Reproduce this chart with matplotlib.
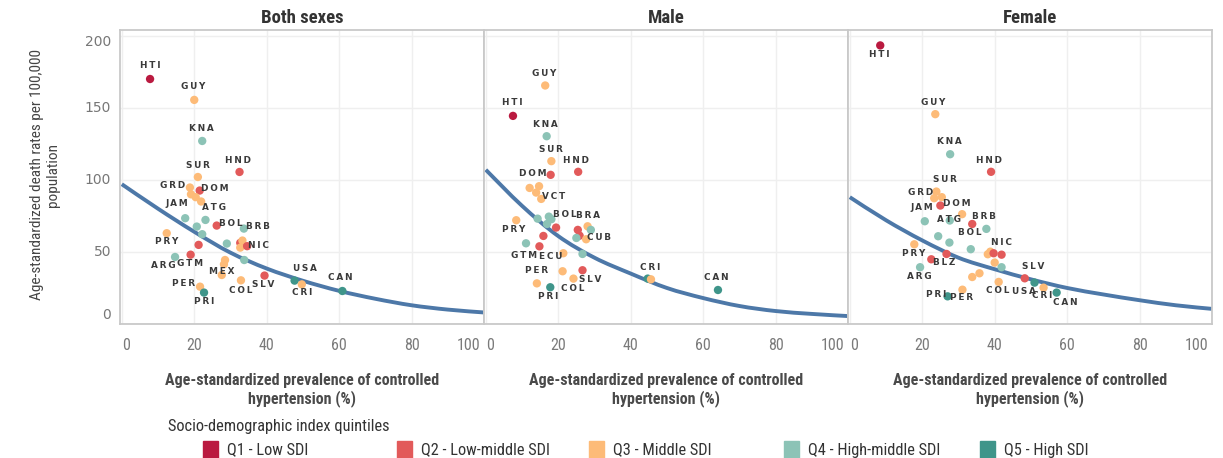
import matplotlib
matplotlib.use('Agg')
import matplotlib.pyplot as plt
from matplotlib import font_manager
from matplotlib.patches import Rectangle, PathPatch
from matplotlib.path import Path

# ---------------- data ----------------
quintile_labels = ['Q1 - Low SDI', 'Q2 - Low-middle SDI', 'Q3 - Middle SDI',
                   'Q4 - High-middle SDI', 'Q5 - High SDI']
quintile_colors = ['#BA1A40', '#E25A5A', '#FDBB78', '#8CC3B6', '#3F958A']

panel_titles = ['Both sexes', 'Male', 'Female']
x_ticks = [0, 20, 40, 60, 80, 100]
y_ticks = [0, 50, 100, 150, 200]

# Both sexes
both_codes = ['HTI', 'GUY', 'KNA', 'HND', 'SUR', 'GRD', 'DOM', '', '', '',
              'JAM', 'ATG', '', 'BOL', 'BRB', '', 'PRY', '', '', '',
              '', '', 'NIC', 'ARG', 'GTM', '', '', 'MEX', '', 'SLV',
              'COL', 'USA', 'CRI', 'PER', 'PRI', 'CAN']
both_x = [7.8, 20.0, 22.2, 32.5, 21.0, 18.8, 21.5, 19.1, 20.4, 21.9,
          17.5, 23.1, 20.7, 26.2, 33.7, 22.2, 12.4, 21.2, 29.0, 32.7,
          33.3, 32.7, 34.6, 14.7, 19.0, 28.5, 28.2, 27.6, 33.8, 39.4,
          32.9, 47.7, 49.7, 21.6, 22.7, 60.9]
both_y = [170, 155.5, 127, 105.5, 102, 94.7, 92.6, 90, 88, 85,
          73.4, 72.2, 67.6, 68.3, 66.2, 62.3, 63, 54.9, 55.8, 56.3,
          57.9, 53, 54, 46.5, 48.1, 44.4, 41.4, 34, 44.4, 33.6,
          30.3, 30.1, 27.5, 25.9, 21.8, 22.9]
both_q = [1, 3, 4, 2, 3, 3, 2, 3, 3, 3,
          4, 4, 4, 2, 4, 4, 3, 2, 4, 2,
          3, 3, 2, 4, 2, 3, 3, 3, 4, 2,
          3, 5, 3, 3, 5, 5]
both_curve = [97, 80, 64, 49.5, 38.5, 30, 23, 17.5, 13, 10, 8]

# Male
male_codes = ['HTI', 'GUY', 'KNA', 'SUR', 'HND', 'DOM', '', '', '', 'VCT',
              '', '', '', '', 'BOL', 'PRY', 'BRA', '', '', '',
              '', 'CUB', '', '', 'GTM', 'ECU', '', '', 'SLV', 'COL',
              'PER', 'PRI', '', 'CRI', 'CAN']
male_x = [7.5, 16.4, 16.8, 18.1, 25.5, 17.9, 12.1, 14.7, 13.9, 15.3,
          14.3, 17.4, 18.1, 16.9, 19.4, 8.4, 28.1, 29.0, 25.4, 25.9,
          25.0, 27.7, 15.9, 11.1, 14.8, 21.4, 26.7, 21.2, 26.7, 24.2,
          14.1, 17.8, 44.7, 45.6, 64.1]
male_y = [144.4, 165.5, 130.3, 113, 105.6, 103.5, 94.4, 95.6, 91.2, 86.8,
          73.1, 74.5, 72.7, 69.4, 66.9, 72, 67.8, 65.3, 65.3, 61.3,
          59.7, 58.8, 61.1, 56, 53.9, 49.1, 48.6, 36.6, 37.3, 31.5,
          28.2, 25.5, 31.5, 31, 23.6]
male_q = [1, 3, 4, 3, 2, 2, 3, 3, 3, 3,
          4, 4, 4, 4, 2, 3, 3, 4, 2, 2,
          4, 3, 2, 4, 2, 3, 4, 3, 2, 3,
          3, 5, 5, 3, 5]
male_curve = [107, 82, 61, 46, 35, 25, 18, 12.5, 9, 7, 5.5]

# Female
female_codes = ['HTI', 'GUY', 'KNA', 'HND', 'SUR', 'GRD', '', 'DOM', '', 'JAM',
                'ATG', 'BOL', 'BRB', '', '', 'PRY', '', 'BLZ', '', 'ARG',
                '', '', 'NIC', '', '', '', '', '', 'COL', 'PER',
                'PRI', 'SLV', 'USA', 'CRI', 'CAN']
female_x = [8.4, 23.6, 27.7, 39.0, 23.9, 23.3, 25.4, 25.0, 31.0, 20.7,
            27.6, 33.8, 37.7, 24.4, 27.5, 17.8, 33.4, 26.7, 22.5, 19.4,
            38.1, 38.8, 39.7, 41.9, 40.0, 41.9, 35.8, 33.8, 41.1, 31.1,
            27.0, 48.3, 51.0, 53.5, 57.1]
female_y = [193.3, 145.6, 117.8, 105.6, 91.9, 87.3, 88, 82.2, 76.2, 71.3,
            71.8, 69.4, 66, 60.9, 56.5, 55.3, 51.9, 48.6, 44.9, 39.4,
            48.4, 50.2, 49.1, 48.1, 42.6, 39.4, 35.2, 32.6, 29.2, 23.8,
            19.2, 31.7, 28.7, 25.2, 21.8]
female_q = [1, 3, 4, 2, 3, 3, 3, 2, 3, 4,
            4, 2, 4, 4, 4, 3, 4, 2, 2, 4,
            3, 3, 2, 2, 3, 4, 3, 3, 3, 3,
            5, 2, 5, 3, 5]
female_curve = [88, 72, 58, 46, 38, 31, 25, 20.5, 16.5, 13, 10.5]

curve_x = [0, 10, 20, 30, 40, 50, 60, 70, 80, 90, 100]

# ---------------- layout (label offsets in pixels: dx right, dy up) ----------------
both_label_off = {'HTI': (0, 13), 'GUY': (-1, 13), 'KNA': (-1, 12), 'SUR': (0, 12),
                  'HND': (-2, 11), 'GRD': (-17, 2), 'DOM': (15, 2), 'JAM': (-8, 15),
                  'ATG': (9, 12), 'BOL': (14, 2), 'BRB': (14, 2), 'PRY': (0, -8),
                  'NIC': (11, 1), 'ARG': (-12, -9), 'GTM': (-1, -9), 'MEX': (0, 3),
                  'PER': (-16, 3), 'PRI': (0, -9), 'COL': (0, -10), 'SLV': (-1, -9),
                  'USA': (10, 12), 'CRI': (0, -8), 'CAN': (-2, 13)}
male_label_off = {'GUY': (-1, 12), 'HTI': (-1, 13), 'KNA': (-1, 12), 'SUR': (0, 12),
                  'HND': (-2, 11), 'DOM': (-18, 1), 'VCT': (12, 2), 'BOL': (9, 13),
                  'BRA': (0, 11), 'PRY': (-3, -9), 'CUB': (13, 2), 'GTM': (-15, -9),
                  'ECU': (-13, -3), 'PER': (0, 13), 'SLV': (8, -9), 'COL': (-1, -10),
                  'PRI': (-2, -9), 'CRI': (-1, 12), 'CAN': (-2, 12)}
female_label_off = {'HTI': (-1, -9), 'GUY': (-2, 12), 'KNA': (-1, 13), 'HND': (-2, 11),
                    'SUR': (9, 12), 'GRD': (-14, 6), 'JAM': (-3, 14), 'DOM': (16, 2),
                    'ATG': (-1, 1), 'BRB': (-2, 12), 'BOL': (-2, -9), 'NIC': (8, 11),
                    'PRY': (-1, -9), 'BLZ': (-2, -9), 'ARG': (-1, -9), 'SLV': (8, 12),
                    'COL': (-1, -9), 'USA': (-11, -9), 'CRI': (-1, -8), 'CAN': (9, -10),
                    'PRI': (-11, 2), 'PER': (-1, -8)}

# ---------------- fonts ----------------
ttf = font_manager.fontManager.ttflist
names = {f.name for f in ttf}
pref = ['Liberation Sans Narrow', 'Arial Narrow', 'Roboto Condensed',
        'Noto Sans Condensed', 'Open Sans Condensed', 'DejaVu Sans Condensed',
        'Noto Sans SemiCondensed']
narrow_name = next((c for c in pref if c in names), None)
if narrow_name is None:
    narrow_name = next((f.name for f in ttf if ('Narrow' in f.name or 'Condensed' in f.name)
                        and 'Extra' not in f.name and 'Ultra' not in f.name), None)
if narrow_name is not None:
    NARROW = dict(family=narrow_name)
    FS = 1.0
else:
    NARROW = dict(family='Liberation Sans')
    FS = 0.85

W, H = 1223, 458
fig = plt.figure(figsize=(W / 100, H / 100), dpi=100)


def fx(px):
    return px / W


def fy(py):
    return 1 - py / H


def spaced(s):
    return '\u2009'.join(s)


def smooth_path(xs, ys):
    """Catmull-Rom spline through the given points, as a Bezier path."""
    pts = list(zip(xs, ys))
    ext = [pts[0]] + pts + [pts[-1]]
    verts = [pts[0]]
    codes = [Path.MOVETO]
    for k in range(1, len(ext) - 2):
        p0, p1, p2, p3 = ext[k - 1], ext[k], ext[k + 1], ext[k + 2]
        c1 = (p1[0] + (p2[0] - p0[0]) / 6, p1[1] + (p2[1] - p0[1]) / 6)
        c2 = (p2[0] - (p3[0] - p1[0]) / 6, p2[1] - (p3[1] - p1[1]) / 6)
        verts += [c1, c2, p2]
        codes += [Path.CURVE4] * 3
    return Path(verts, codes)


panels = [
    (both_codes, both_x, both_y, both_q, both_curve, both_label_off),
    (male_codes, male_x, male_y, male_q, male_curve, male_label_off),
    (female_codes, female_x, female_y, female_q, female_curve, female_label_off),
]

PL, PW, PT, PB = 120, 364, 30, 324
for i, (codes, xs, ys, qs, curve, offs) in enumerate(panels):
    left = PL + PW * i
    ax = fig.add_axes([fx(left), fy(PB), PW / W, (PB - PT) / H])
    ax.set_xlim(-0.5, 100)
    ax.set_ylim(0, 204)
    ax.set_xticks(x_ticks)
    ax.set_yticks(y_ticks)
    ax.grid(True, color='#efefef', lw=1.0)
    ax.set_axisbelow(True)
    ax.tick_params(length=0, labelbottom=False, labelleft=False)
    for sp in ax.spines.values():
        sp.set_color('#c9c9c9')
        sp.set_linewidth(1.3)

    ax.add_patch(PathPatch(smooth_path(curve_x, curve), fill=False,
                           edgecolor='#4D78A8', lw=2.8, zorder=2,
                           capstyle='butt', clip_on=True))
    ax.scatter(xs, ys, s=36, c=[quintile_colors[q - 1] for q in qs],
               linewidths=0, zorder=3)
    for code, x, y in zip(codes, xs, ys):
        if code:
            dx, dy = offs[code]
            ax.annotate(spaced(code), (x, y), xytext=(dx, dy),
                        textcoords='offset pixels', ha='center', va='center',
                        fontsize=6.4, fontweight='bold', color='#3a3a3a', zorder=4)

    # tick labels
    for t in x_ticks:
        dx = 4.5 if t == x_ticks[0] else (-15 if t == x_ticks[-1] else 0)
        ax.annotate(str(t), (t, 0), xycoords=('data', 'axes fraction'),
                    xytext=(dx, -21), textcoords='offset pixels',
                    ha='center', va='center', fontsize=11.5 * FS, color='#7a7a7a',
                    annotation_clip=False, **NARROW)
    if i == 0:
        for t in y_ticks:
            dy = 9 if t == y_ticks[0] else (-6 if t == y_ticks[-1] else 0)
            ax.annotate(str(t), (0, t), xycoords=('axes fraction', 'data'),
                        xytext=(-9, dy), textcoords='offset pixels',
                        ha='right', va='center', fontsize=10, color='#777777',
                        annotation_clip=False)

    cx = fx(left + PW / 2)
    fig.text(cx, fy(18), panel_titles[i], ha='center', va='center',
             fontsize=13.5 * FS, fontweight='bold', color='#333333', **NARROW)
    fig.text(cx, fy(390), 'Age-standardized prevalence of controlled\nhypertension (%)',
             ha='center', va='center', fontsize=11.5 * FS, fontweight='bold',
             color='#4a4a4a', linespacing=1.2, **NARROW)

fig.text(fx(45), fy(175), 'Age-standardized death rates per 100,000\npopulation',
         rotation=90, ha='center', va='center', fontsize=11 * FS, color='#444444',
         linespacing=1.15, **NARROW)

# legend
fig.text(fx(168), fy(426), 'Socio-demographic index quintiles', ha='left',
         va='center', fontsize=11.8 * FS, color='#333333', **NARROW)
legend_px = [210, 404, 596, 791, 987]
for c, lab, col in zip(legend_px, quintile_labels, quintile_colors):
    fig.patches.append(Rectangle((fx(c - 7.5), fy(450 + 9)), 15 / W, 18 / H,
                                 transform=fig.transFigure, color=col))
    fig.text(fx(c + 17), fy(450), lab, ha='left', va='center', fontsize=11.8 * FS,
             color='#333333', **NARROW)

fig.savefig('out.png', dpi=100)
